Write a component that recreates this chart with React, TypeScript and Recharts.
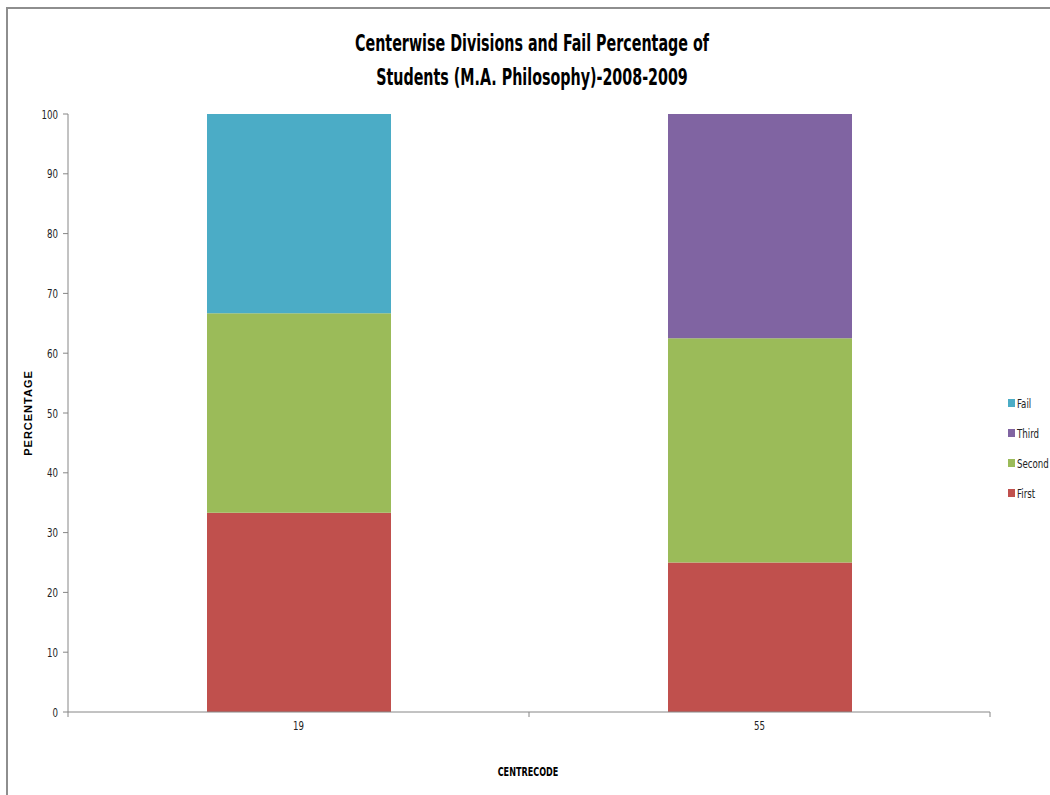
import React from 'react';
import { BarChart, Bar, XAxis, YAxis, Legend } from 'recharts';

const centres = ['19', '55'];
const first = [33.33, 25];
const second = [33.33, 37.5];
const third = [0, 37.5];
const fail = [33.33, 0];
const yTicks = [0, 10, 20, 30, 40, 50, 60, 70, 80, 90, 100];
const legendOrder = ['Fail', 'Third', 'Second', 'First'];

const data = centres.map((c, i) => ({
  centre: c,
  First: first[i],
  Second: second[i],
  Third: third[i],
  Fail: fail[i],
}));

const FONT = "'DejaVu Sans Condensed', 'Liberation Sans Narrow', sans-serif";
const AXIS = '#868686';
const SX = 0.74;

const CategoryTick = (props: any) => {
  const { x, y, payload, index, visibleTicksCount } = props;
  const off = payload && payload.offset != null ? payload.offset : 230.5;
  const axisY = y - 6;
  const isLast = index === (visibleTicksCount ?? centres.length) - 1;
  return (
    <g>
      <line x1={x - off} x2={x - off} y1={axisY} y2={axisY + 5} stroke={AXIS} />
      {isLast && <line x1={x + off} x2={x + off} y1={axisY} y2={axisY + 5} stroke={AXIS} />}
      <text
        transform={`translate(${x},${axisY + 18}) scale(${SX},1)`}
        x={0}
        y={0}
        textAnchor="middle"
        fontSize={13}
        fill="#222"
        fontFamily={FONT}
      >
        {payload.value}
      </text>
    </g>
  );
};

const ValueTick = (props: any) => {
  const { x, y, payload } = props;
  return (
    <text
      transform={`translate(${x},${y + 4.5}) scale(${SX},1)`}
      x={0}
      y={0}
      textAnchor="end"
      fontSize={13}
      fill="#222"
      fontFamily={FONT}
    >
      {payload.value}
    </text>
  );
};

const LegendContent = (props: any) => {
  const payload = props.payload || [];
  const items = legendOrder
    .map((name) => payload.find((p: any) => p.value === name || p.dataKey === name))
    .filter(Boolean);
  return (
    <div style={{ fontFamily: FONT, fontSize: 13, color: '#222' }}>
      {items.map((it: any) => (
        <div key={it.value} style={{ display: 'flex', alignItems: 'center', height: 30 }}>
          <span style={{ display: 'inline-block', width: 7, height: 8, background: it.color, marginRight: 2, flex: 'none' }} />
          <span style={{ display: 'inline-block', transform: `scaleX(${SX})`, transformOrigin: 'left center', whiteSpace: 'nowrap' }}>
            {it.value}
          </span>
        </div>
      ))}
    </div>
  );
};

export default function App() {
  return (
    <div style={{ position: 'absolute', left: 0, top: 0, width: 1050, height: 795, background: '#fff', overflow: 'hidden' }}>
      <div
        style={{
          position: 'absolute', left: 6, top: 7, width: 1100, height: 850,
          borderLeft: '2px solid #8e8e8e', borderTop: '2px solid #8e8e8e', boxSizing: 'border-box',
        }}
      />
      <div
        style={{
          position: 'absolute', left: 0, top: 26, width: 1064, textAlign: 'center',
          fontFamily: FONT, fontWeight: 'bold', fontSize: 23, lineHeight: '34px', color: '#000',
          transform: 'scaleX(0.69)', transformOrigin: '532px 0',
        }}
      >
        Centerwise Divisions and Fail Percentage of
        <br />
        Students (M.A. Philosophy)-2008-2009
      </div>
      <div style={{ position: 'absolute', left: 28, top: 413, width: 0, height: 0 }}>
        <div
          style={{
            position: 'absolute', transform: 'translate(-50%, -50%) rotate(-90deg)', whiteSpace: 'nowrap',
            fontFamily: "'Liberation Sans', Arial, sans-serif", fontWeight: 'bold', fontSize: 11, color: '#000', letterSpacing: 1,
          }}
        >
          PERCENTAGE
        </div>
      </div>
      <div
        style={{
          position: 'absolute', left: 428, top: 764, width: 200, textAlign: 'center',
          fontFamily: FONT, fontWeight: 'bold', fontSize: 12.5, color: '#000',
          transform: 'scaleX(0.72)', transformOrigin: '100px 0',
        }}
      >
        CENTRECODE
      </div>
      <div style={{ position: 'absolute', left: 0, top: 0 }}>
        <BarChart
          width={1050}
          height={795}
          data={data}
          margin={{ top: 114, right: 10, bottom: 53, left: 0 }}
        >
          <XAxis
            dataKey="centre"
            height={30}
            stroke={AXIS}
            tickLine={{ stroke: 'none' }}
            tickSize={6}
            tickMargin={0}
            tick={<CategoryTick />}
            interval={0}
          />
          <YAxis
            width={68}
            domain={[0, 100]}
            ticks={yTicks}
            interval={0}
            stroke={AXIS}
            tickSize={5}
            tickMargin={5}
            tick={<ValueTick />}
          />
          <Legend
            layout="vertical"
            align="right"
            verticalAlign="top"
            content={<LegendContent />}
            wrapperStyle={{ position: 'absolute', left: 1008, top: 388, width: 50 }}
          />
          <Bar dataKey="First" stackId="a" fill="#C0504D" barSize={184} isAnimationActive={false} />
          <Bar dataKey="Second" stackId="a" fill="#9BBB59" barSize={184} isAnimationActive={false} />
          <Bar dataKey="Third" stackId="a" fill="#8064A2" barSize={184} isAnimationActive={false} />
          <Bar dataKey="Fail" stackId="a" fill="#4BACC6" barSize={184} isAnimationActive={false} />
        </BarChart>
      </div>
    </div>
  );
}
